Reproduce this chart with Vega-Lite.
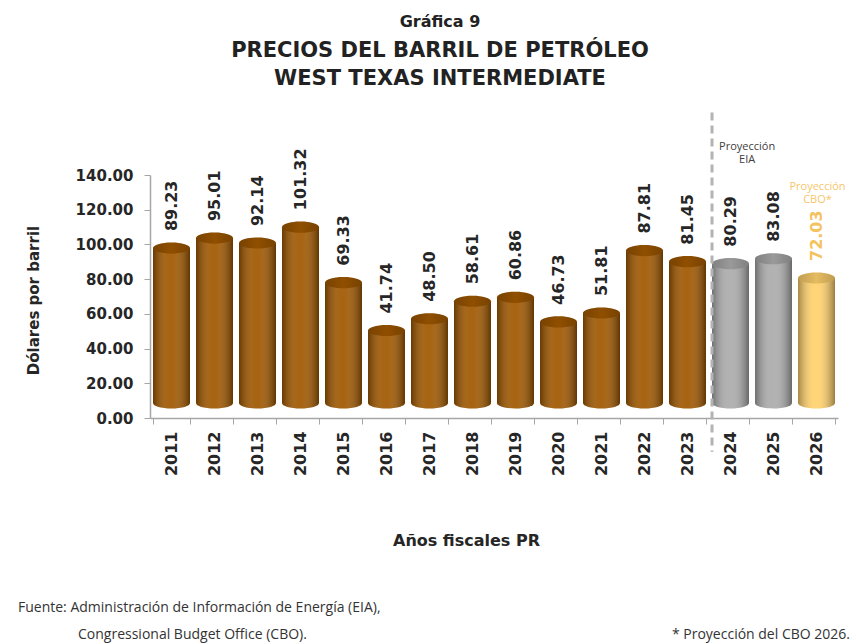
{
  "$schema": "https://vega.github.io/schema/vega-lite/v6.json",
  "width": 688,
  "height": 243,
  "autosize": {"type": "none"},
  "padding": {"left": 150, "top": 175, "right": 18, "bottom": 226},
  "background": "white",
  "config": {"view": {"stroke": null}, "font": "DejaVu Sans"},
  "title": {
    "text": "Gráfica 9",
    "subtitle": ["PRECIOS DEL BARRIL DE PETRÓLEO", "WEST TEXAS INTERMEDIATE"],
    "font": "DejaVu Sans",
    "fontSize": 16,
    "fontWeight": "bold",
    "color": "#222222",
    "subtitleFont": "DejaVu Sans",
    "subtitleFontSize": 21,
    "subtitleFontWeight": "bold",
    "subtitleColor": "#222222",
    "subtitleLineHeight": 28,
    "subtitlePadding": 10,
    "anchor": "middle",
    "dx": -54,
    "offset": 22
  },
  "data": {
    "values": [
      {"year": "2011", "value": 89.23, "group": "Histórico"},
      {"year": "2012", "value": 95.01, "group": "Histórico"},
      {"year": "2013", "value": 92.14, "group": "Histórico"},
      {"year": "2014", "value": 101.32, "group": "Histórico"},
      {"year": "2015", "value": 69.33, "group": "Histórico"},
      {"year": "2016", "value": 41.74, "group": "Histórico"},
      {"year": "2017", "value": 48.50, "group": "Histórico"},
      {"year": "2018", "value": 58.61, "group": "Histórico"},
      {"year": "2019", "value": 60.86, "group": "Histórico"},
      {"year": "2020", "value": 46.73, "group": "Histórico"},
      {"year": "2021", "value": 51.81, "group": "Histórico"},
      {"year": "2022", "value": 87.81, "group": "Histórico"},
      {"year": "2023", "value": 81.45, "group": "Histórico"},
      {"year": "2024", "value": 80.29, "group": "EIA"},
      {"year": "2025", "value": 83.08, "group": "EIA"},
      {"year": "2026", "value": 72.03, "group": "CBO"}
    ]
  },
  "encoding": {
    "x": {
      "field": "year",
      "type": "ordinal",
      "scale": {"paddingInner": 0.14, "paddingOuter": 0.07},
      "axis": {
        "title": "Años fiscales PR",
        "titleFontSize": 16,
        "titleFontWeight": "bold",
        "titleColor": "#262626",
        "titleX": 316,
        "titleY": 122,
        "titleBaseline": "middle",
        "labelAngle": -90,
        "labelFontSize": 16,
        "labelFontWeight": "bold",
        "labelColor": "#262626",
        "labelPadding": 7,
        "tickSize": 6,
        "tickBand": "extent",
        "domainColor": "#a6a6a6",
        "tickColor": "#a6a6a6",
        "domainWidth": 1.5
      }
    },
    "y": {
      "field": "value",
      "type": "quantitative",
      "scale": {"domain": [0, 140]},
      "axis": {
        "values": [0, 20, 40, 60, 80, 100, 120, 140],
        "format": ".2f",
        "grid": false,
        "labelFontSize": 15,
        "labelFontWeight": "bold",
        "labelColor": "#262626",
        "labelPadding": 11,
        "tickSize": 6,
        "domainColor": "#a6a6a6",
        "tickColor": "#a6a6a6",
        "domainWidth": 1.5,
        "title": "Dólares por barril",
        "titleFontSize": 15,
        "titleFontWeight": "bold",
        "titleColor": "#262626",
        "titleX": -117,
        "titleY": 125,
        "titleAngle": 270,
        "titleAlign": "center",
        "titleBaseline": "middle"
      }
    }
  },
  "layer": [
    {
      "mark": {"type": "point", "shape": "M -1 0 A 1 0.3 0 1 1 1 0 A 1 0.3 0 1 1 -1 0 Z", "filled": true, "size": 1369, "opacity": 1, "strokeWidth": 0, "yOffset": -15},
      "encoding": {
        "y": {"datum": 0},
        "color": {"field": "group", "type": "nominal", "scale": {"domain": ["Histórico", "EIA", "CBO"], "range": ["#A05800", "#ABABAB", "#FFD16C"]}, "legend": null}
      }
    },
    {
      "mark": {"type": "point", "shape": "M -1 0 A 1 0.3 0 1 1 1 0 A 1 0.3 0 1 1 -1 0 Z", "filled": true, "size": 1369, "opacity": 1, "strokeWidth": 0, "yOffset": -15,
        "fill": {"gradient": "linear", "x1": 0, "x2": 1, "y1": 0, "y2": 0, "stops": [{"offset": 0, "color": "rgba(0,0,0,0.35)"}, {"offset": 0.42, "color": "rgba(255,255,255,0.08)"}, {"offset": 0.55, "color": "rgba(255,255,255,0.08)"}, {"offset": 1, "color": "rgba(0,0,0,0.4)"}]}},
      "encoding": {"y": {"datum": 0}}
    },
    {
      "mark": {"type": "bar", "yOffset": -15},
      "encoding": {
        "color": {"field": "group", "type": "nominal", "scale": {"domain": ["Histórico", "EIA", "CBO"], "range": ["#A05800", "#ABABAB", "#FFD16C"]}, "legend": null}
      }
    },
    {
      "mark": {"type": "bar", "yOffset": -15,
        "fill": {"gradient": "linear", "x1": 0, "x2": 1, "y1": 0, "y2": 0, "stops": [{"offset": 0, "color": "rgba(0,0,0,0.35)"}, {"offset": 0.42, "color": "rgba(255,255,255,0.08)"}, {"offset": 0.55, "color": "rgba(255,255,255,0.08)"}, {"offset": 1, "color": "rgba(0,0,0,0.4)"}]}},
      "encoding": {}
    },
    {
      "mark": {"type": "point", "shape": "M -1 0 A 1 0.3 0 1 1 1 0 A 1 0.3 0 1 1 -1 0 Z", "filled": true, "size": 1369, "opacity": 1, "strokeWidth": 0, "yOffset": -15},
      "encoding": {
        "color": {"field": "group", "type": "nominal", "scale": {"domain": ["Histórico", "EIA", "CBO"], "range": ["#A05800", "#ABABAB", "#FFD16C"]}, "legend": null}
      }
    },
    {
      "mark": {"type": "point", "shape": "M -1 0 A 1 0.3 0 1 1 1 0 A 1 0.3 0 1 1 -1 0 Z", "filled": true, "size": 1369, "opacity": 1, "strokeWidth": 0, "yOffset": -15,
        "fill": {"gradient": "linear", "x1": 0, "x2": 1, "y1": 0, "y2": 0, "stops": [{"offset": 0, "color": "rgba(0,0,0,0.25)"}, {"offset": 0.5, "color": "rgba(0,0,0,0.1)"}, {"offset": 1, "color": "rgba(0,0,0,0.25)"}]}},
      "encoding": {}
    },
    {
      "mark": {"type": "text", "angle": 270, "align": "left", "baseline": "middle", "fontSize": 16, "fontWeight": "bold", "yOffset": -32},
      "encoding": {
        "text": {"field": "value", "type": "quantitative", "format": ".2f"},
        "color": {"condition": {"test": "datum.group === 'CBO'", "value": "#F5C260"}, "value": "#262626"}
      }
    },
    {
      "transform": [{"filter": "datum.year === '2024'"}],
      "mark": {"type": "rule", "color": "#b3b3b3", "strokeWidth": 3, "strokeDash": [8, 5]},
      "encoding": {
        "x": {"datum": "2024", "bandPosition": 0},
        "y": {"datum": 176},
        "y2": {"datum": -19.5}
      }
    },
    {
      "transform": [{"filter": "datum.year === '2024'"}],
      "mark": {"type": "text", "align": "center", "baseline": "top", "font": "Open Sans", "fontSize": 11, "fontWeight": "normal", "lineHeight": 13, "color": "#404040"},
      "encoding": {
        "x": {"datum": "2024", "bandPosition": 0.95},
        "y": {"datum": 159.6},
        "text": {"value": ["Proyección", "EIA"]}
      }
    },
    {
      "transform": [{"filter": "datum.year === '2026'"}],
      "mark": {"type": "text", "align": "center", "baseline": "top", "font": "Open Sans", "fontSize": 11, "fontWeight": "normal", "lineHeight": 13, "color": "#F7C66B", "xOffset": 1},
      "encoding": {
        "x": {"datum": "2026", "bandPosition": 0.5},
        "y": {"datum": 136.5},
        "text": {"value": ["Proyección", "CBO*"]}
      }
    },
    {
      "transform": [{"filter": "datum.year === '2011'"}],
      "mark": {"type": "text", "align": "left", "baseline": "middle", "font": "Open Sans", "fontSize": 14, "fontWeight": "normal", "color": "#333333", "xOffset": -135},
      "encoding": {
        "x": {"datum": "2011", "bandPosition": 0},
        "y": {"datum": -109.4},
        "text": {"value": "Fuente: Administración de Información de Energía (EIA),"}
      }
    },
    {
      "transform": [{"filter": "datum.year === '2011'"}],
      "mark": {"type": "text", "align": "left", "baseline": "middle", "font": "Open Sans", "fontSize": 14, "fontWeight": "normal", "color": "#333333", "xOffset": -75},
      "encoding": {
        "x": {"datum": "2011", "bandPosition": 0},
        "y": {"datum": -125},
        "text": {"value": "Congressional Budget Office (CBO)."}
      }
    },
    {
      "transform": [{"filter": "datum.year === '2026'"}],
      "mark": {"type": "text", "align": "right", "baseline": "middle", "font": "Open Sans", "fontSize": 14, "fontWeight": "normal", "color": "#333333", "xOffset": 15},
      "encoding": {
        "x": {"datum": "2026", "bandPosition": 1},
        "y": {"datum": -125},
        "text": {"value": "* Proyección del CBO 2026."}
      }
    }
  ]
}
